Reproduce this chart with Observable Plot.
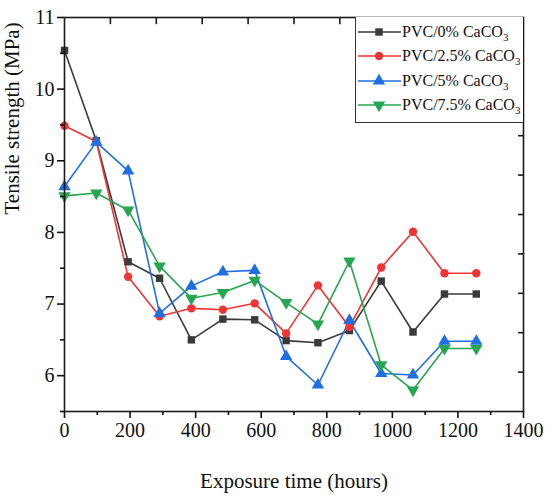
<!DOCTYPE html>
<html>
<head>
<meta charset="utf-8">
<script src="https://cdn.jsdelivr.net/npm/d3@7"></script>
<script src="https://cdn.jsdelivr.net/npm/@observablehq/plot@0.6"></script>
<style>
  html, body { margin: 0; padding: 0; background: #fff; }
  #wrap { position: relative; width: 550px; height: 496px; font-family: "Liberation Serif", "Times New Roman", serif; }
  #wrap svg text { font-family: "Liberation Serif", "Times New Roman", serif; }
  #legend { position: absolute; left: 355px; top: 17px; width: 168px; height: 106px; box-sizing: border-box;
            border-left: 1.2px solid #333; border-bottom: 1.2px solid #333; background: #fff; }
  .item { position: absolute; left: 1px; height: 24px; display: flex; align-items: center; white-space: nowrap;
          font-size: 16px; color: #111; }
  .item svg { margin-right: 1px; }
  sub { font-size: 11px; vertical-align: -4px; line-height: 0; }
</style>
</head>
<body>
<div id="wrap"><div id="legend"></div></div>
<script>
// ---- data ----
const times = [0, 97, 194, 290, 387, 483, 580, 676, 773, 869, 966, 1063, 1159, 1256];
const pvc0   = [10.54, 9.28, 7.59, 7.36, 6.50, 6.79, 6.78, 6.49, 6.46, 6.63, 7.32, 6.61, 7.14, 7.14];
const pvc25  = [9.49, 9.27, 7.38, 6.83, 6.94, 6.92, 7.01, 6.59, 7.26, 6.68, 7.51, 8.01, 7.43, 7.43];
const pvc5   = [8.64, 9.26, 8.86, 6.87, 7.25, 7.45, 7.47, 6.27, 5.87, 6.77, 6.03, 6.01, 6.48, 6.48];
const pvc75  = [8.51, 8.55, 8.31, 7.53, 7.08, 7.16, 7.33, 7.02, 6.72, 7.60, 6.15, 5.80, 6.38, 6.38];
const seriesNames = ["PVC/0% CaCO3", "PVC/2.5% CaCO3", "PVC/5% CaCO3", "PVC/7.5% CaCO3"];
const seriesValues = [pvc0, pvc25, pvc5, pvc75];
const colors = ["#3a3a3a", "#f03434", "#1f6fe2", "#27a651"];
const xTicks = [0, 200, 400, 600, 800, 1000, 1200, 1400];
const xMinor = [100, 300, 500, 700, 900, 1100, 1300];
const yTicks = [6, 7, 8, 9, 10, 11];
const yMinor = [5.5, 6.5, 7.5, 8.5, 9.5, 10.5];
const topTicks = [140, 280, 420, 560, 700, 840, 980, 1120, 1260];
const rightTicks = [10.45, 9.9, 9.35, 8.8, 8.25, 7.7, 7.15, 6.6, 6.05];
const xLabel = "Exposure time (hours)";
const yLabel = "Tensile strength (MPa)";

const W = 550, H = 496, ML = 64, MR = 27, MT = 17, MB = 85;
const serif = "'Liberation Serif', 'Times New Roman', serif";
const sqrt3 = Math.sqrt(3);
const triangleDown = {
  draw(context, size) {
    const y = -Math.sqrt(size / (sqrt3 * 3));
    context.moveTo(0, -y * 2);
    context.lineTo(-sqrt3 * y, y);
    context.lineTo(sqrt3 * y, y);
    context.closePath();
  }
};
const symbols = ["square", "circle", "triangle", triangleDown];

const rows = seriesNames.flatMap((name, i) =>
  times.map((t, j) => ({series: name, idx: i, time: t, value: seriesValues[i][j]})));
const topRows = topTicks.map(t => ({t, y1: 11, y2: 10.9}));
const rightRows = rightTicks.map(v => ({v, x1: 1400, x2: 1385}));

const marks = [];
seriesNames.forEach((name, i) => {
  const d = rows.filter(r => r.idx === i);
  marks.push(Plot.line(d, {x: "time", y: "value", stroke: colors[i], strokeWidth: 1.6}));
});
seriesNames.forEach((name, i) => {
  const d = rows.filter(r => r.idx === i);
  marks.push(Plot.dot(d, {x: "time", y: "value", fill: colors[i], stroke: "none",
    symbol: symbols[i], r: i >= 2 ? 4.6 : 4.2}));
});

const chart = Plot.plot({
  width: W,
  height: H,
  marginLeft: ML,
  marginRight: MR,
  marginTop: MT,
  marginBottom: MB,
  style: {fontFamily: serif, fontSize: "20px", background: "#fff", color: "#111"},
  x: {domain: [0, 1400]},
  y: {domain: [5.5, 11]},
  marks: [
    ...marks,
    Plot.frame({stroke: "#1a1a1a", strokeWidth: 1.6}),
    Plot.ruleX(topRows, {x: "t", y1: "y1", y2: "y2", stroke: "#1a1a1a", strokeWidth: 1.6}),
    Plot.ruleY(rightRows, {y: "v", x1: "x1", x2: "x2", stroke: "#1a1a1a", strokeWidth: 1.6}),
    Plot.axisX(xTicks, {anchor: "bottom", tickSize: 7, tickPadding: 4, tickFormat: d => String(d), label: null, fontSize: 20, fontFamily: serif, strokeWidth: 1.6}),
    Plot.axisX(xMinor, {anchor: "bottom", tickSize: 4, tickFormat: () => "", label: null, strokeWidth: 1.6}),
    Plot.axisY(yTicks, {anchor: "left", tickSize: 7, tickPadding: 3, tickFormat: d => String(d), label: null, fontSize: 20, fontFamily: serif, strokeWidth: 1.6}),
    Plot.axisY(yMinor, {anchor: "left", tickSize: 4, tickFormat: () => "", label: null, strokeWidth: 1.6}),
    Plot.text([xLabel], {frameAnchor: "bottom", dy: 76, lineAnchor: "bottom", text: d => d, fontSize: 21, fontFamily: serif}),
    Plot.text([yLabel], {frameAnchor: "left", dx: -60, rotate: -90, lineAnchor: "top", text: d => d, fontSize: 21, fontFamily: serif})
  ]
});
document.getElementById("wrap").prepend(chart);

// ---- legend ----
const legend = document.getElementById("legend");
const rowTops = [3, 27, 52, 76];
seriesNames.forEach((name, i) => {
  const item = document.createElement("div");
  item.className = "item";
  item.style.top = rowTops[i] + "px";
  const sym = d3.symbol(symbols[i] === "square" ? d3.symbolSquare : symbols[i] === "circle" ? d3.symbolCircle :
                        symbols[i] === "triangle" ? d3.symbolTriangle : triangleDown, Math.PI * (i >= 2 ? 4.6 : 4.2) ** 2)();
  item.innerHTML = `<svg width="44" height="24"><line x1="1" x2="44" y1="12" y2="12" stroke="${colors[i]}" stroke-width="1.6"/>` +
    `<path d="${sym}" transform="translate(22,12)" fill="${colors[i]}"/></svg>` +
    `<span>${name.replace("CaCO3", "CaCO<sub>3</sub>")}</span>`;
  legend.appendChild(item);
});
</script>
</body>
</html>
